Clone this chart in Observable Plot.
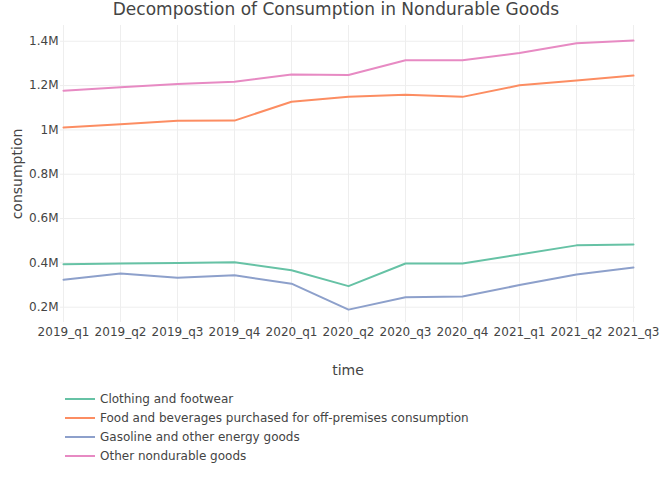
<!DOCTYPE html>
<html>
<head>
<meta charset="utf-8">
<script src="https://cdn.jsdelivr.net/npm/d3@7"></script>
<script src="https://cdn.jsdelivr.net/npm/@observablehq/plot@0.6"></script>
<style>
  body { margin: 0; background: #fff; font-family: "DejaVu Sans", Verdana, sans-serif; color: #444; }
  #title { height: 20px; line-height: 19px; font-size: 17px; text-align: center; width: 672px; white-space: nowrap; }
  #legend { margin-left: 65px; margin-top: 4px; font-size: 12px; }
  .row { height: 19.2px; display: flex; align-items: center; }
  .sw { width: 30px; height: 2px; margin-right: 5px; }
</style>
</head>
<body>
<div id="title">Decompostion of Consumption in Nondurable Goods</div>
<div id="chart"></div>
<div id="legend"></div>
<script>
const quarters = ["2019_q1","2019_q2","2019_q3","2019_q4","2020_q1","2020_q2","2020_q3","2020_q4","2021_q1","2021_q2","2021_q3"];
const seriesNames = [
  "Clothing and footwear",
  "Food and beverages purchased for off-premises consumption",
  "Gasoline and other energy goods",
  "Other nondurable goods"
];
const clothing = [394000, 397000, 400000, 403000, 367000, 295000, 397000, 397000, 438000, 479000, 483000];
const food     = [1011000, 1026000, 1041000, 1042000, 1127000, 1149000, 1158000, 1149000, 1201000, 1223000, 1245000];
const gasoline = [324000, 352000, 333000, 344000, 306000, 189000, 245000, 248000, 300000, 348000, 379000];
const other    = [1177000, 1192000, 1207000, 1217000, 1250000, 1248000, 1314000, 1314000, 1347000, 1391000, 1403000];
const colors = ["#66c2a5", "#fc8d62", "#8da0cb", "#e78ac3"];
const yTicks = [200000, 400000, 600000, 800000, 1000000, 1200000, 1400000];
const yTickLabels = ["0.2M", "0.4M", "0.6M", "0.8M", "1M", "1.2M", "1.4M"];
const xLabel = "time";
const yLabel = "consumption";

const allSeries = [clothing, food, gasoline, other];
const rows = [];
allSeries.forEach((vals, si) => vals.forEach((v, i) => rows.push({series: seriesNames[si], time: quarters[i], value: v})));

const font = "DejaVu Sans, Verdana, sans-serif";
const chart = Plot.plot({
  width: 672,
  height: 365,
  marginLeft: 60,
  marginRight: 37,
  marginTop: 5,
  marginBottom: 63,
  style: {fontFamily: font, fontSize: "12px", color: "#444", background: "white"},
  x: {type: "point", domain: quarters, padding: 0},
  y: {domain: [131000, 1471000]},
  color: {domain: seriesNames, range: colors},
  marks: [
    Plot.gridX(quarters, {stroke: "#eee", strokeOpacity: 1, strokeWidth: 1}),
    Plot.gridY(yTicks, {stroke: "#eee", strokeOpacity: 1, strokeWidth: 1}),
    Plot.axisX({ticks: quarters, tickSize: 0, tickPadding: 5, label: null, fontSize: 12, fill: "#444"}),
    Plot.axisY({ticks: yTicks, tickSize: 0, tickPadding: 2, label: null, tickFormat: d => yTickLabels[yTicks.indexOf(d)], fontSize: 12, fill: "#444"}),
    Plot.line(rows, {x: "time", y: "value", z: "series", stroke: "series", strokeWidth: 2, curve: "linear"}),
    Plot.text([xLabel], {text: d => d, frameAnchor: "bottom", dy: 48, lineAnchor: "middle", fontSize: 14, fill: "#444"}),
    Plot.text([yLabel], {text: d => d, frameAnchor: "left", textAnchor: "middle", dx: -43, rotate: -90, lineAnchor: "middle", fontSize: 14, fill: "#444"})
  ]
});
document.getElementById("chart").appendChild(chart);

const legend = document.getElementById("legend");
seriesNames.forEach((n, i) => {
  const r = document.createElement("div");
  r.className = "row";
  const s = document.createElement("div");
  s.className = "sw";
  s.style.background = colors[i];
  const t = document.createElement("span");
  t.textContent = n;
  r.appendChild(s); r.appendChild(t);
  legend.appendChild(r);
});
</script>
</body>
</html>
